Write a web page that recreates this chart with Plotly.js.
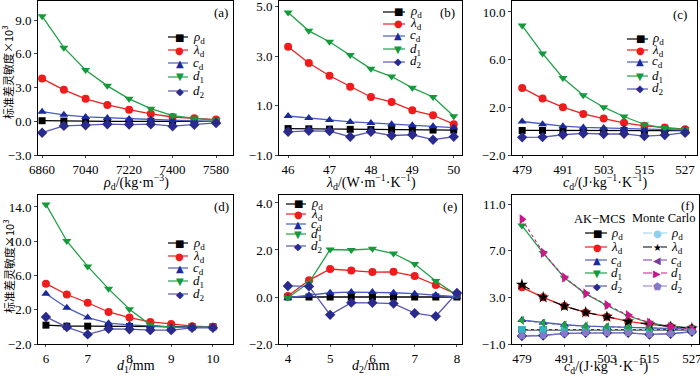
<!DOCTYPE html>
<html>
<head>
<meta charset="utf-8">
<script src="https://cdn.plot.ly/plotly-3.0.1.min.js"></script>
<style>html,body{margin:0;padding:0;background:#fff;}#chart{width:700px;height:376px;}</style>
</head>
<body>
<div id="chart"></div>
<script>
// ---------- data ----------
const xA = [6860, 6950, 7040, 7130, 7220, 7310, 7400, 7490, 7580];
const xB = [46, 46.5, 47, 47.5, 48, 48.5, 49, 49.5, 50];
const xC = [479, 485, 491, 497, 503, 509, 515, 521, 527];
const xD = [6, 6.5, 7, 7.5, 8, 8.5, 9, 9.5, 10];
const xE = [4, 4.5, 5, 5.5, 6, 6.5, 7, 7.5, 8];
const xF = [479, 485, 491, 497, 503, 509, 515, 521, 527];

const rhoA = [0.05, 0.02, 0.01, 0.0, 0.0, 0.0, 0.0, 0.0, 0.0];
const lamA = [3.8, 2.8, 2.0, 1.45, 1.03, 0.66, 0.38, 0.26, 0.15];
const cA   = [0.85, 0.57, 0.39, 0.3, 0.21, 0.15, 0.09, 0.04, -0.02];
const d1A  = [9.35, 6.55, 4.56, 3.15, 2.0, 1.12, 0.5, 0.25, 0.09];
const d2A  = [-1.02, -0.41, -0.35, -0.26, -0.29, -0.26, -0.44, -0.32, -0.15];

const rhoB = [0.07, 0.06, 0.05, 0.04, 0.03, 0.03, 0.02, 0.01, 0.01];
const lamB = [3.39, 2.73, 2.21, 1.77, 1.35, 1.15, 0.81, 0.61, 0.25];
const cB   = [0.58, 0.5, 0.42, 0.34, 0.3, 0.25, 0.21, 0.17, 0.11];
const d1B  = [4.77, 4.03, 3.59, 3.05, 2.49, 2.18, 1.72, 1.35, 0.57];
const d2B  = [-0.06, -0.02, -0.03, -0.26, -0.06, -0.21, -0.18, -0.38, -0.26];

const rhoC = [0.06, 0.06, 0.06, 0.05, 0.05, 0.05, 0.04, 0.04, 0.04];
const lamC = [3.63, 2.73, 2.01, 1.45, 1.06, 0.7, 0.45, 0.31, 0.17];
const cC   = [0.81, 0.59, 0.42, 0.31, 0.26, 0.2, 0.14, 0.12, 0.09];
const d1C  = [8.86, 6.52, 4.46, 3.01, 2.01, 1.23, 0.56, 0.26, 0.14];
const d2C  = [-0.52, -0.5, -0.3, -0.19, -0.24, -0.22, -0.41, -0.33, -0.13];

const rhoD = [0.2, 0.08, 0.08, 0.06, 0.05, 0.03, 0.02, 0.0, 0.0];
const lamD = [5.05, 3.78, 2.82, 1.74, 1.09, 0.58, 0.35, 0.08, 0.0];
const cD   = [3.86, 2.24, 1.09, 0.43, 0.24, 0.08, -0.03, 0.0, 0.0];
const d1D  = [14.3, 10.03, 7.06, 4.44, 2.05, 0.24, -0.07, -0.03, -0.03];
const d2D  = [1.16, -0.03, -0.88, -0.23, -0.27, -0.38, -0.38, -0.11, -0.11];

const rhoE = [0.0, 0.0, 0.0, 0.0, 0.0, 0.0, 0.0, 0.0, 0.0];
const lamE = [0.04, 0.71, 1.19, 1.13, 1.06, 1.07, 0.89, 0.51, 0.11];
const cE   = [-0.03, 0.07, 0.18, 0.21, 0.21, 0.18, 0.14, 0.08, 0.01];
const d1E  = [-0.03, 0.61, 2.02, 2.0, 2.05, 1.85, 1.4, 0.68, 0.07];
const d2E  = [0.47, 0.45, -0.76, -0.24, -0.25, -0.28, -0.69, -0.82, 0.17];

// panel (f): AK-MCS
const rhoF = [0.22, 0.22, 0.22, 0.22, 0.22, 0.22, 0.22, 0.22, 0.22];
const lamF = [3.86, 3.0, 2.25, 1.71, 1.34, 0.94, 0.68, 0.48, 0.34];
const cF   = [1.05, 0.82, 0.65, 0.54, 0.48, 0.42, 0.39, 0.34, 0.28];
const d1F  = [9.16, 6.8, 4.69, 3.3, 2.3, 1.4, 0.82, 0.48, 0.4];
const d2F  = [-0.32, -0.27, -0.09, -0.04, -0.04, -0.04, -0.18, -0.12, 0.05];
// panel (f): Monte Carlo
const rhoFM = [0.24, 0.24, 0.24, 0.24, 0.24, 0.24, 0.24, 0.24, 0.24];
const lamFM = [4.09, 3.0, 2.25, 1.71, 1.34, 0.94, 0.68, 0.48, 0.34];
const cFM   = [1.02, 0.8, 0.63, 0.53, 0.47, 0.41, 0.37, 0.33, 0.28];
const d1FM  = [9.7, 6.83, 4.7, 3.33, 2.34, 1.48, 0.82, 0.48, 0.28];
const d2FM  = [-0.32, -0.27, -0.09, -0.04, -0.04, -0.04, -0.18, -0.12, 0.05];

const seriesNames = ['<i>ρ</i><sub>d</sub>', '<i>λ</i><sub>d</sub>', '<i>c</i><sub>d</sub>', '<i>d</i><sub>1</sub>', '<i>d</i><sub>2</sub>'];
const xTitles = [
  '<i>ρ</i><sub>d</sub>/(kg·m<sup>−3</sup>)',
  '<i>λ</i><sub>d</sub>/(W·m<sup>−1</sup>·K<sup>−1</sup>)',
  '<i>c</i><sub>d</sub>/(J·kg<sup>−1</sup>·K<sup>−1</sup>)',
  '<i>d</i><sub>1</sub>/mm',
  '<i>d</i><sub>2</sub>/mm',
  '<i>c</i><sub>d</sub>/(J·kg<sup>−1</sup>·K<sup>−1</sup>)'
];
const panelLabels = ['(a)', '(b)', '(c)', '(d)', '(e)', '(f)'];
const yTitle = '标准差灵敏度×10<sup>3</sup>';

// ---------- styles ----------
const W = 700, H = 376;
const serif = 'Liberation Serif, Times New Roman, serif';
const styles = [
  {sym: 'square', glyph: '■', mc: '#000000', lc: '#000000', ms: 7},
  {sym: 'circle', glyph: '●', mc: '#ee1c1c', lc: '#ee2020', ms: 8},
  {sym: 'triangle-up', glyph: '▲', mc: '#1a2a9a', lc: '#4a5cc0', ms: 8},
  {sym: 'triangle-down', glyph: '▼', mc: '#139a3a', lc: '#22a048', ms: 8},
  {sym: 'diamond', glyph: '◆', mc: '#2a2a8e', lc: '#5858b4', ms: 8}
];
const mcStyles = [
  {sym: 'square', glyph: '●', mc: '#2fb8c4', lgc: '#8fd0f0', lc: '#8fd0f0', ms: 7},
  {sym: 'star', glyph: '★', mc: '#000000', lgc: '#000000', lc: '#000000', ms: 9},
  {sym: 'triangle-left', glyph: '◀', mc: '#22a040', lgc: '#7a3aa0', lc: '#6a5ab0', ms: 8},
  {sym: 'triangle-right', glyph: '▶', mc: '#d0158c', lgc: '#d0158c', lc: '#d0158c', ms: 9},
  {sym: 'pentagon', glyph: '⬟', mc: '#8878c8', lgc: '#8878c8', lc: '#8878c8', ms: 8}
];

const panels = [
  {x: xA, ys: [rhoA, lamA, cA, d1A, d2A]},
  {x: xB, ys: [rhoB, lamB, cB, d1B, d2B]},
  {x: xC, ys: [rhoC, lamC, cC, d1C, d2C]},
  {x: xD, ys: [rhoD, lamD, cD, d1D, d2D]},
  {x: xE, ys: [rhoE, lamE, cE, d1E, d2E]},
  {x: xF, ys: [rhoF, lamF, cF, d1F, d2F]}
];
const mcYs = [rhoFM, lamFM, cFM, d1FM, d2FM];

// pixel boxes of the six plot areas [left, right, top, bottom]
const boxes = [
  [38, 233, 1, 155], [279, 462, 1, 155], [512, 697, 1, 155],
  [38, 233, 195, 344], [279, 462, 195, 344], [512, 699, 195, 344]
];
const xRanges = [[6843, 7650], [45.78, 50.2], [476.0, 530.5], [5.81, 10.48], [3.79, 8.12], [476.2, 529.0]];
const yRanges = [[-3, 10.7], [-1, 5.24], [-2, 10.92], [-2, 15.4], [-2, 4.34], [-1, 11.78]];
const xTicks = [[6860, 7040, 7220, 7400, 7580], [46, 47, 48, 49, 50], [479, 491, 503, 515, 527],
                [6, 7, 8, 9, 10], [4, 5, 6, 7, 8], [479, 491, 503, 515, 527]];
const yTicks = [[-3, 0, 3, 6, 9], [-1, 1, 3, 5], [-2, 2, 6, 10], [-2, 2, 6, 10, 14], [-2, 0, 2, 4], [-1, 3, 7, 11]];

const px = v => v / W;
const py = v => 1 - v / H;

const traces = [];
const layout = {
  width: W, height: H,
  margin: {l: 0, r: 0, t: 0, b: 0},
  paper_bgcolor: '#ffffff', plot_bgcolor: '#ffffff',
  showlegend: false,
  font: {family: serif, size: 13, color: '#000'},
  shapes: [], annotations: []
};

panels.forEach((p, i) => {
  const n = i === 0 ? '' : String(i + 1);
  const b = boxes[i];
  layout['xaxis' + n] = {
    domain: [px(b[0]), px(b[1])], anchor: 'y' + n, range: xRanges[i],
    tickvals: xTicks[i], ticks: 'outside', ticklen: 2, tickwidth: 1,
    ticklabeloverflow: 'allow',
    showline: true, mirror: true, linecolor: '#000', linewidth: 1, showgrid: false, zeroline: false,
    tickfont: {family: serif, size: 13, color: '#000'}
  };
  layout['yaxis' + n] = {
    domain: [py(b[3]), py(b[2])], anchor: 'x' + n, range: yRanges[i],
    tickvals: yTicks[i], tickformat: '.1f', ticks: 'outside', ticklen: 3, tickwidth: 1,
    ticklabeloverflow: 'allow',
    showline: true, mirror: true, linecolor: '#000', linewidth: 1, showgrid: false, zeroline: false,
    tickfont: {family: serif, size: 13, color: '#000'}
  };
  p.ys.forEach((y, k) => {
    const s = styles[k];
    traces.push({
      type: 'scatter', mode: 'lines+markers', x: p.x, y: y, name: seriesNames[k],
      xaxis: 'x' + n, yaxis: 'y' + n,
      line: {color: s.lc, width: 1.3},
      marker: {symbol: s.sym, size: s.ms, color: s.mc}
    });
  });
  if (i === 5) {
    mcYs.forEach((y, k) => {
      const s = mcStyles[k];
      traces.push({
        type: 'scatter', mode: 'lines+markers', x: p.x, y: y, name: 'Monte Carlo ' + seriesNames[k],
        xaxis: 'x6', yaxis: 'y6',
        line: {color: s.lc, width: 1.1, dash: k === 1 ? 'dash' : 'dot'},
        marker: {symbol: s.sym, size: s.ms, color: s.mc}
      });
    });
  }
  // x-axis title, centred under the panel
  layout.annotations.push({xref: 'paper', yref: 'paper', x: px((b[0] + b[1]) / 2), y: py(i < 3 ? 182 : 366),
    xanchor: 'center', yanchor: 'middle', showarrow: false, text: xTitles[i],
    font: {family: serif, size: 14, color: '#000'}});
});

// panel labels
const labelPos = [[221, 13], [447, 13], [680, 14], [221, 207], [450, 206], [687, 205]];
labelPos.forEach((lp, i) => {
  layout.annotations.push({xref: 'paper', yref: 'paper', x: px(lp[0]), y: py(lp[1]),
    xanchor: 'center', yanchor: 'middle', showarrow: false, text: panelLabels[i],
    font: {family: serif, size: 13, color: '#000'}});
});

// y-axis titles
[[8, 72], [8, 266]].forEach(tp => {
  layout.annotations.push({xref: 'paper', yref: 'paper', x: px(tp[0]), y: py(tp[1]),
    xanchor: 'center', yanchor: 'middle', showarrow: false, textangle: -90, text: yTitle,
    font: {family: 'Noto Sans CJK SC, ' + serif, size: 11, color: '#000'}});
});

// legends drawn as keys: [lineX0, lineX1, markX, labelX, [y...]]
function legendKey(cfg, st, names, dash) {
  cfg[4].forEach((yy, k) => {
    const s = st[k];
    layout.shapes.push({type: 'line', xref: 'paper', yref: 'paper',
      x0: px(cfg[0]), x1: px(cfg[1]), y0: py(yy), y1: py(yy),
      line: {color: s.lgc || s.lc, width: 1.2, dash: dash ? 'dash' : 'solid'}});
    layout.annotations.push({xref: 'paper', yref: 'paper', x: px(cfg[2]), y: py(yy),
      xanchor: 'center', yanchor: 'middle', showarrow: false, text: s.glyph,
      font: {family: 'DejaVu Sans', size: 10, color: s.lgc || s.mc}});
    layout.annotations.push({xref: 'paper', yref: 'paper', x: px(cfg[3]), y: py(yy),
      xanchor: 'left', yanchor: 'middle', showarrow: false, text: names[k],
      font: {family: serif, size: 13, color: '#000'}});
  });
}
const legendCfgs = [
  [168, 188, 180, 191, [37, 50, 63, 77, 91]],
  [383, 405, 398, 408, [12, 24, 36, 49, 62]],
  [627, 648, 640, 650, [39, 50, 62, 76, 89]],
  [168, 188, 180, 191, [243, 256, 268, 281, 294]],
  [286, 306, 298, 309, [204, 214, 224, 234, 246]],
  [585, 607, 597, 609, [233, 247, 260, 273, 286]]
];
legendCfgs.forEach(c => legendKey(c, styles, seriesNames, false));
legendKey([643, 667, 657, 669, [233, 247, 260, 273, 286]], mcStyles, seriesNames, true);
layout.annotations.push({xref: 'paper', yref: 'paper', x: px(600), y: py(219), xanchor: 'center', yanchor: 'middle',
  showarrow: false, text: 'AK−MCS', font: {family: serif, size: 12.5, color: '#000'}});
layout.annotations.push({xref: 'paper', yref: 'paper', x: px(664), y: py(218), xanchor: 'center', yanchor: 'middle',
  showarrow: false, text: 'Monte Carlo', font: {family: serif, size: 12.5, color: '#000'}});

Plotly.newPlot('chart', traces, layout, {staticPlot: true, displayModeBar: false});
</script>
</body>
</html>
